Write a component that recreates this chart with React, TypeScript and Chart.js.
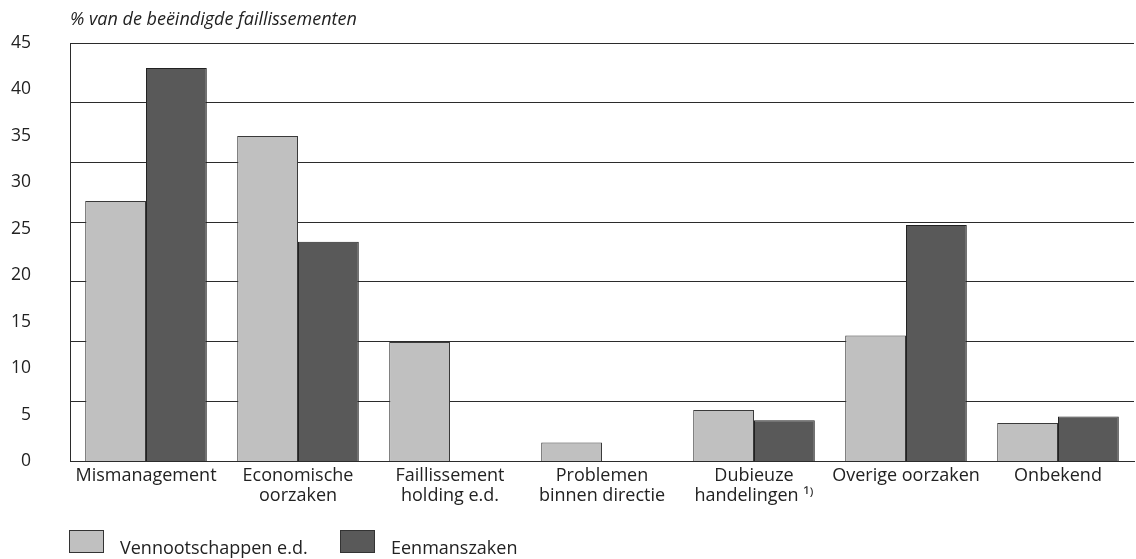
import React, { useEffect, useRef } from "react";
import { Chart, registerables } from "chart.js";

Chart.register(...registerables);

const categories: (string | string[])[] = [
  "Mismanagement",
  ["Economische", "oorzaken"],
  ["Faillissement", "holding e.d."],
  ["Problemen", "binnen directie"],
  ["Dubieuze", "handelingen \u00b9\u207e"],
  "Overige oorzaken",
  "Onbekend",
];
const vennootschappen = [28.0, 35.0, 12.8, 2.0, 5.5, 13.5, 4.1];
const eenmanszaken = [42.3, 23.6, 0, 0, 4.4, 25.4, 4.8];
const yTicks = [0, 5, 10, 15, 20, 25, 30, 35, 40, 45];
const gridCount = 7;

const FONT = "'Open Sans', 'Noto Sans', sans-serif";
const LINE = "#2b2b2b";

export default function App() {
  const ref = useRef<HTMLCanvasElement | null>(null);

  useEffect(() => {
    if (!ref.current) return;
    const chart = new Chart(ref.current, {
      type: "bar",
      data: {
        labels: categories,
        datasets: [
          {
            label: "Vennootschappen e.d.",
            data: vennootschappen,
            backgroundColor: "#c0c0c0",
            borderColor: "#3a3a3a",
            borderWidth: 1,
            borderSkipped: "bottom",
            categoryPercentage: 0.8,
            barPercentage: 1,
          },
          {
            label: "Eenmanszaken",
            data: eenmanszaken,
            backgroundColor: "#595959",
            borderColor: "#222222",
            borderWidth: 1,
            borderSkipped: "bottom",
            categoryPercentage: 0.8,
            barPercentage: 1,
          },
        ],
      },
      options: {
        animation: false,
        responsive: false,
        maintainAspectRatio: false,
        layout: { padding: { top: 43, right: 2, bottom: 48, left: 0 } },
        plugins: {
          legend: { display: false },
          tooltip: { enabled: false },
          title: { display: false },
        },
        scales: {
          x: {
            grid: { display: false, drawTicks: false },
            border: { display: true, color: LINE, width: 1 },
            ticks: {
              color: "#222",
              font: { family: FONT, size: 18, lineHeight: "20px" },
              padding: 5,
              maxRotation: 0,
              autoSkip: false,
            },
            afterFit: (s: any) => {
              s.height = 50;
            },
          },
          y: {
            min: 0,
            max: 45,
            position: "left",
            grid: { display: false, drawTicks: false },
            border: { display: true, color: LINE, width: 1 },
            afterBuildTicks: (s: any) => {
              s.ticks = yTicks.map((v) => ({ value: v }));
            },
            ticks: {
              color: "#222",
              font: { family: FONT, size: 17.5 },
              padding: 39,
            },
            afterFit: (s: any) => {
              s.width = 70;
              s.paddingTop = 10;
              s.paddingBottom = 10;
            },
          },
          yg: {
            min: 0,
            max: 45,
            position: "left",
            grid: { display: true, drawTicks: false, color: LINE, lineWidth: 1 },
            border: { display: false },
            afterBuildTicks: (s: any) => {
              s.ticks = Array.from({ length: gridCount + 1 }, (_, i) => ({
                value: (i * 45) / gridCount,
              }));
            },
            ticks: { display: false, padding: 0 },
            afterFit: (s: any) => {
              s.width = 0;
              s.paddingTop = 0;
              s.paddingBottom = 0;
            },
          },
        },
      },
    });
    return () => chart.destroy();
  }, []);

  const textStyle: React.CSSProperties = {
    position: "absolute",
    fontFamily: FONT,
    fontSize: 18,
    color: "#222",
    lineHeight: "20px",
    whiteSpace: "nowrap",
  };
  const box = (bg: string, left: number): React.CSSProperties => ({
    position: "absolute",
    left,
    top: 530,
    width: 33,
    height: 21,
    background: bg,
    border: "1px solid #333",
  });

  return (
    <div
      style={{
        position: "fixed",
        left: 0,
        top: 0,
        width: 1136,
        height: 559,
        background: "#fff",
      }}
    >
      <canvas ref={ref} width={1136} height={559} style={{ position: "absolute", left: 0, top: 0 }} />
      <div style={{ ...textStyle, left: 70, top: 8, fontStyle: "italic", fontSize: 18 }}>
        % van de beëindigde faillissementen
      </div>
      <div style={box("#c0c0c0", 69)} />
      <div style={{ ...textStyle, left: 120, top: 537 }}>Vennootschappen e.d.</div>
      <div style={box("#595959", 340)} />
      <div style={{ ...textStyle, left: 391, top: 537 }}>Eenmanszaken</div>
    </div>
  );
}
